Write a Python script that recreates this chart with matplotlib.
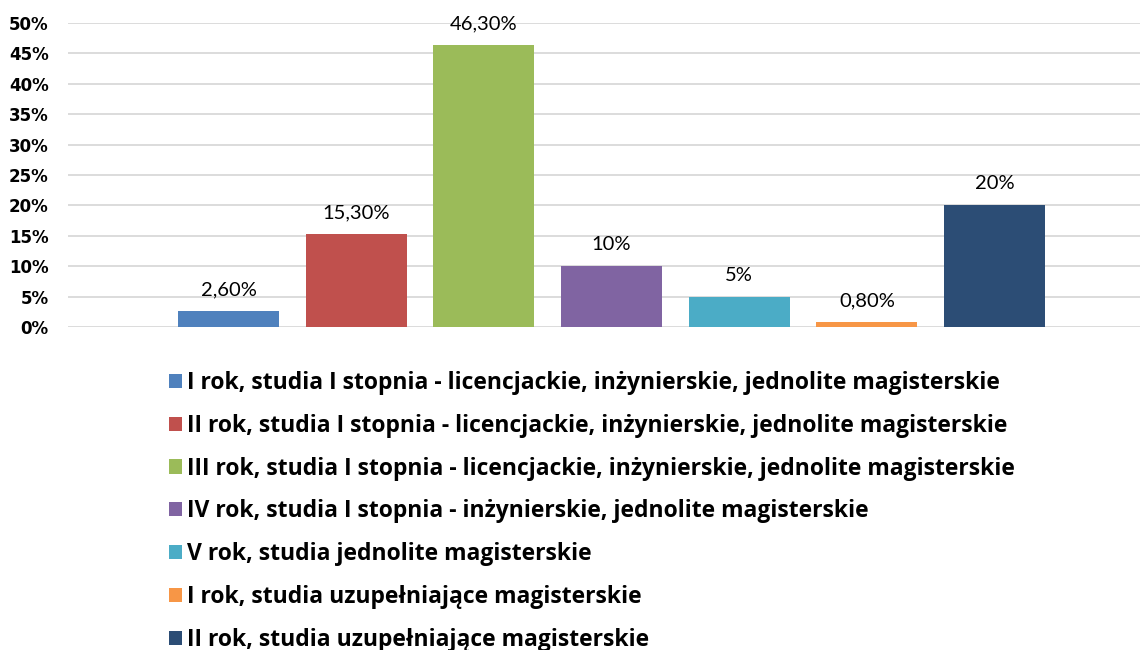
import matplotlib
matplotlib.use("Agg")
import matplotlib.pyplot as plt
from matplotlib.patches import Patch

categories = [
    "I rok, studia I stopnia - licencjackie, inżynierskie, jednolite magisterskie",
    "II rok, studia I stopnia - licencjackie, inżynierskie, jednolite magisterskie",
    "III rok, studia I stopnia - licencjackie, inżynierskie, jednolite magisterskie",
    "IV rok, studia I stopnia - inżynierskie, jednolite magisterskie",
    "V rok, studia jednolite magisterskie",
    "I rok, studia uzupełniające magisterskie",
    "II rok, studia uzupełniające magisterskie",
]
values = [2.6, 15.3, 46.3, 10, 5, 0.8, 20]
value_labels = ["2,60%", "15,30%", "46,30%", "10%", "5%", "0,80%", "20%"]
colors = ["#4F81BD", "#C0504D", "#9BBB59", "#8064A2", "#4BACC6", "#F79646", "#2C4D75"]
yticks = [0, 5, 10, 15, 20, 25, 30, 35, 40, 45, 50]
ytick_labels = [f"{t}%" for t in yticks]

W, H = 1142, 650
fig = plt.figure(figsize=(W / 100, H / 100), dpi=100)
ax = fig.add_axes([68 / W, (H - 327) / H, (1140 - 68) / W, (327 - 23) / H])

xs = list(range(len(values)))
bars = ax.bar(xs, values, width=0.79, color=colors, zorder=3)
for x, v, lab in zip(xs, values, value_labels):
    ax.annotate(lab, (x, v), xytext=(0, 11.5), textcoords="offset points",
                ha="center", va="baseline", fontsize=14.5, family="Lato", color="#000000")

ax.set_xlim(-1.257, 7.139)
ax.set_ylim(0, 50)
ax.set_yticks(yticks)
ax.set_yticklabels(ytick_labels, fontsize=12, fontweight="bold", family="DejaVu Sans")
ax.tick_params(axis="y", length=0, pad=14)
ax.tick_params(axis="x", length=0, labelbottom=False)
ax.grid(axis="y", color="#D9D9D9", linewidth=1.3, zorder=0)
for s in ax.spines.values():
    s.set_visible(False)

handles = [Patch(facecolor=c, edgecolor="none") for c in colors]
leg = fig.legend(handles, categories, loc="upper left",
                 bbox_to_anchor=(169 / W, 1 - 371 / H),
                 frameon=False, prop={"family": "Open Sans", "weight": "bold", "size": 16.5},
                 handlelength=0.57, handleheight=0.57, handletextpad=0.2,
                 labelspacing=0.82, borderpad=0, borderaxespad=0)

fig.savefig("out.png", dpi=100)
